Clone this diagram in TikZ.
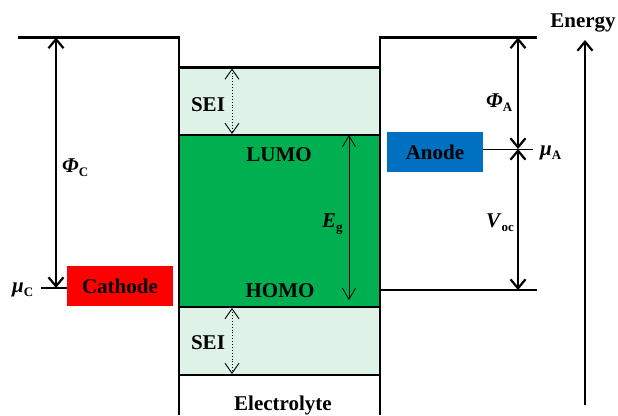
\documentclass[tikz,border=0pt]{standalone}
\usepackage{fontspec}
\setmainfont{Liberation Serif}
\usetikzlibrary{arrows.meta}
\definecolor{seigreen}{RGB}{222,242,232}
\definecolor{bandgreen}{RGB}{0,176,80}
\definecolor{cathodered}{RGB}{255,0,0}
\definecolor{anodeblue}{RGB}{0,112,192}
\newcommand{\lvl}[2]{\textbf{\textit{#1}}\raisebox{-4pt}{\fontsize{13}{13}\selectfont\bfseries #2}}

\begin{document}
\begin{tikzpicture}[x=1pt,y=-1pt,>={Straight Barb[length=9pt,width=15pt]},
  font=\fontsize{21}{24}\selectfont\bfseries,
  level/.style={line width=2.5pt},
  gap/.style={line width=2.2pt},
  elec/.style={minimum width=106pt,minimum height=40pt,inner sep=0pt},
  lab/.style={inner sep=0pt,anchor=base west},
  thinarr/.style={line width=0.8pt,{Straight Barb[length=11pt,width=13pt]}-{Straight Barb[length=11pt,width=13pt]}},
  seiarr/.style={line width=0.9pt,dotted,{Straight Barb[length=10pt,width=14pt]}-{Straight Barb[length=10pt,width=14pt]}}]
\useasboundingbox (0,0) rectangle (618,415);
% electrolyte layers
\fill[seigreen] (179,67.7) rectangle (380,135);
\fill[bandgreen] (179,135) rectangle (380,307);
\fill[seigreen] (179,307) rectangle (380,375);
\draw[level] (179,67.7) -- (380,67.7);
\draw[level] (179,135) -- (380,135);
\draw[level] (179,307) -- (380,307);
\draw[level] (179,375) -- (380,375);
% electrode levels
\draw[level] (18,37.5) -- (179,37.5) -- (179,415);
\draw[level] (537,37.5) -- (380,37.5) -- (380,415);
\draw[gap] (380,290) -- (537,290);
% cathode side
\coordinate (phiCtop) at (56,37.5);
\coordinate (muC) at (56,288);
\coordinate (muCtick) at (41,288);
\node[elec,fill=cathodered] (cathode) at (120,286) {Cathode};
\draw[line width=2pt] (muCtick) -- (muCtick -| cathode.west);
\draw[gap,<->] (muC) -- (phiCtop);
\node[lab] (phiC) at (62,172) {\lvl{Φ}{C}};
\node[lab] (muClab) at (12,292) {\lvl{μ}{C}};
% anode side
\coordinate (phiAtop) at (518,37.5);
\coordinate (muA) at (518,149);
\coordinate (vocbot) at (518,290);
\coordinate (muAend) at (533,149);
\node[elec,minimum width=96pt,fill=anodeblue] (anode) at (435,152) {Anode};
\draw[line width=0.8pt] (anode.east |- muA) -- (muAend);
\draw[gap,<->] (muA) -- (phiAtop);
\draw[gap,<->] (muA) -- (vocbot);
\node[lab] (phiA) at (486,107) {\lvl{Φ}{A}};
\node[lab] (muAlab) at (540,155) {\lvl{μ}{A}};
\node[lab] (voc) at (486,227) {\lvl{V}{oc}};
% band gap
\coordinate (lumo) at (349,135);
\coordinate (homo) at (349,300);
\draw[thinarr] (lumo) -- (homo);
\node[lab] (eg) at (322,227) {\lvl{E}{g}};
\node (lumolab) at (279,155) {LUMO};
\node (homolab) at (280,291) {HOMO};
% SEI layers
\coordinate (seiAtop) at (232,68.5);
\coordinate (seiAbot) at (232,134);
\coordinate (seiBtop) at (232,308);
\coordinate (seiBbot) at (232,374);
\draw[seiarr] (seiAtop) -- (seiAbot);
\draw[seiarr] (seiBtop) -- (seiBbot);
\node (seiA) at (208,104.5) {SEI};
\node (seiB) at (208,343) {SEI};
\node (electrolyte) at (283,405) {Electrolyte};
% energy axis
\coordinate (ebot) at (585,405);
\coordinate (etop) at (585,40);
\draw[gap,->] (ebot) -- (etop);
\node (energy) at (583,23) {Energy};
\end{tikzpicture}
\end{document}
